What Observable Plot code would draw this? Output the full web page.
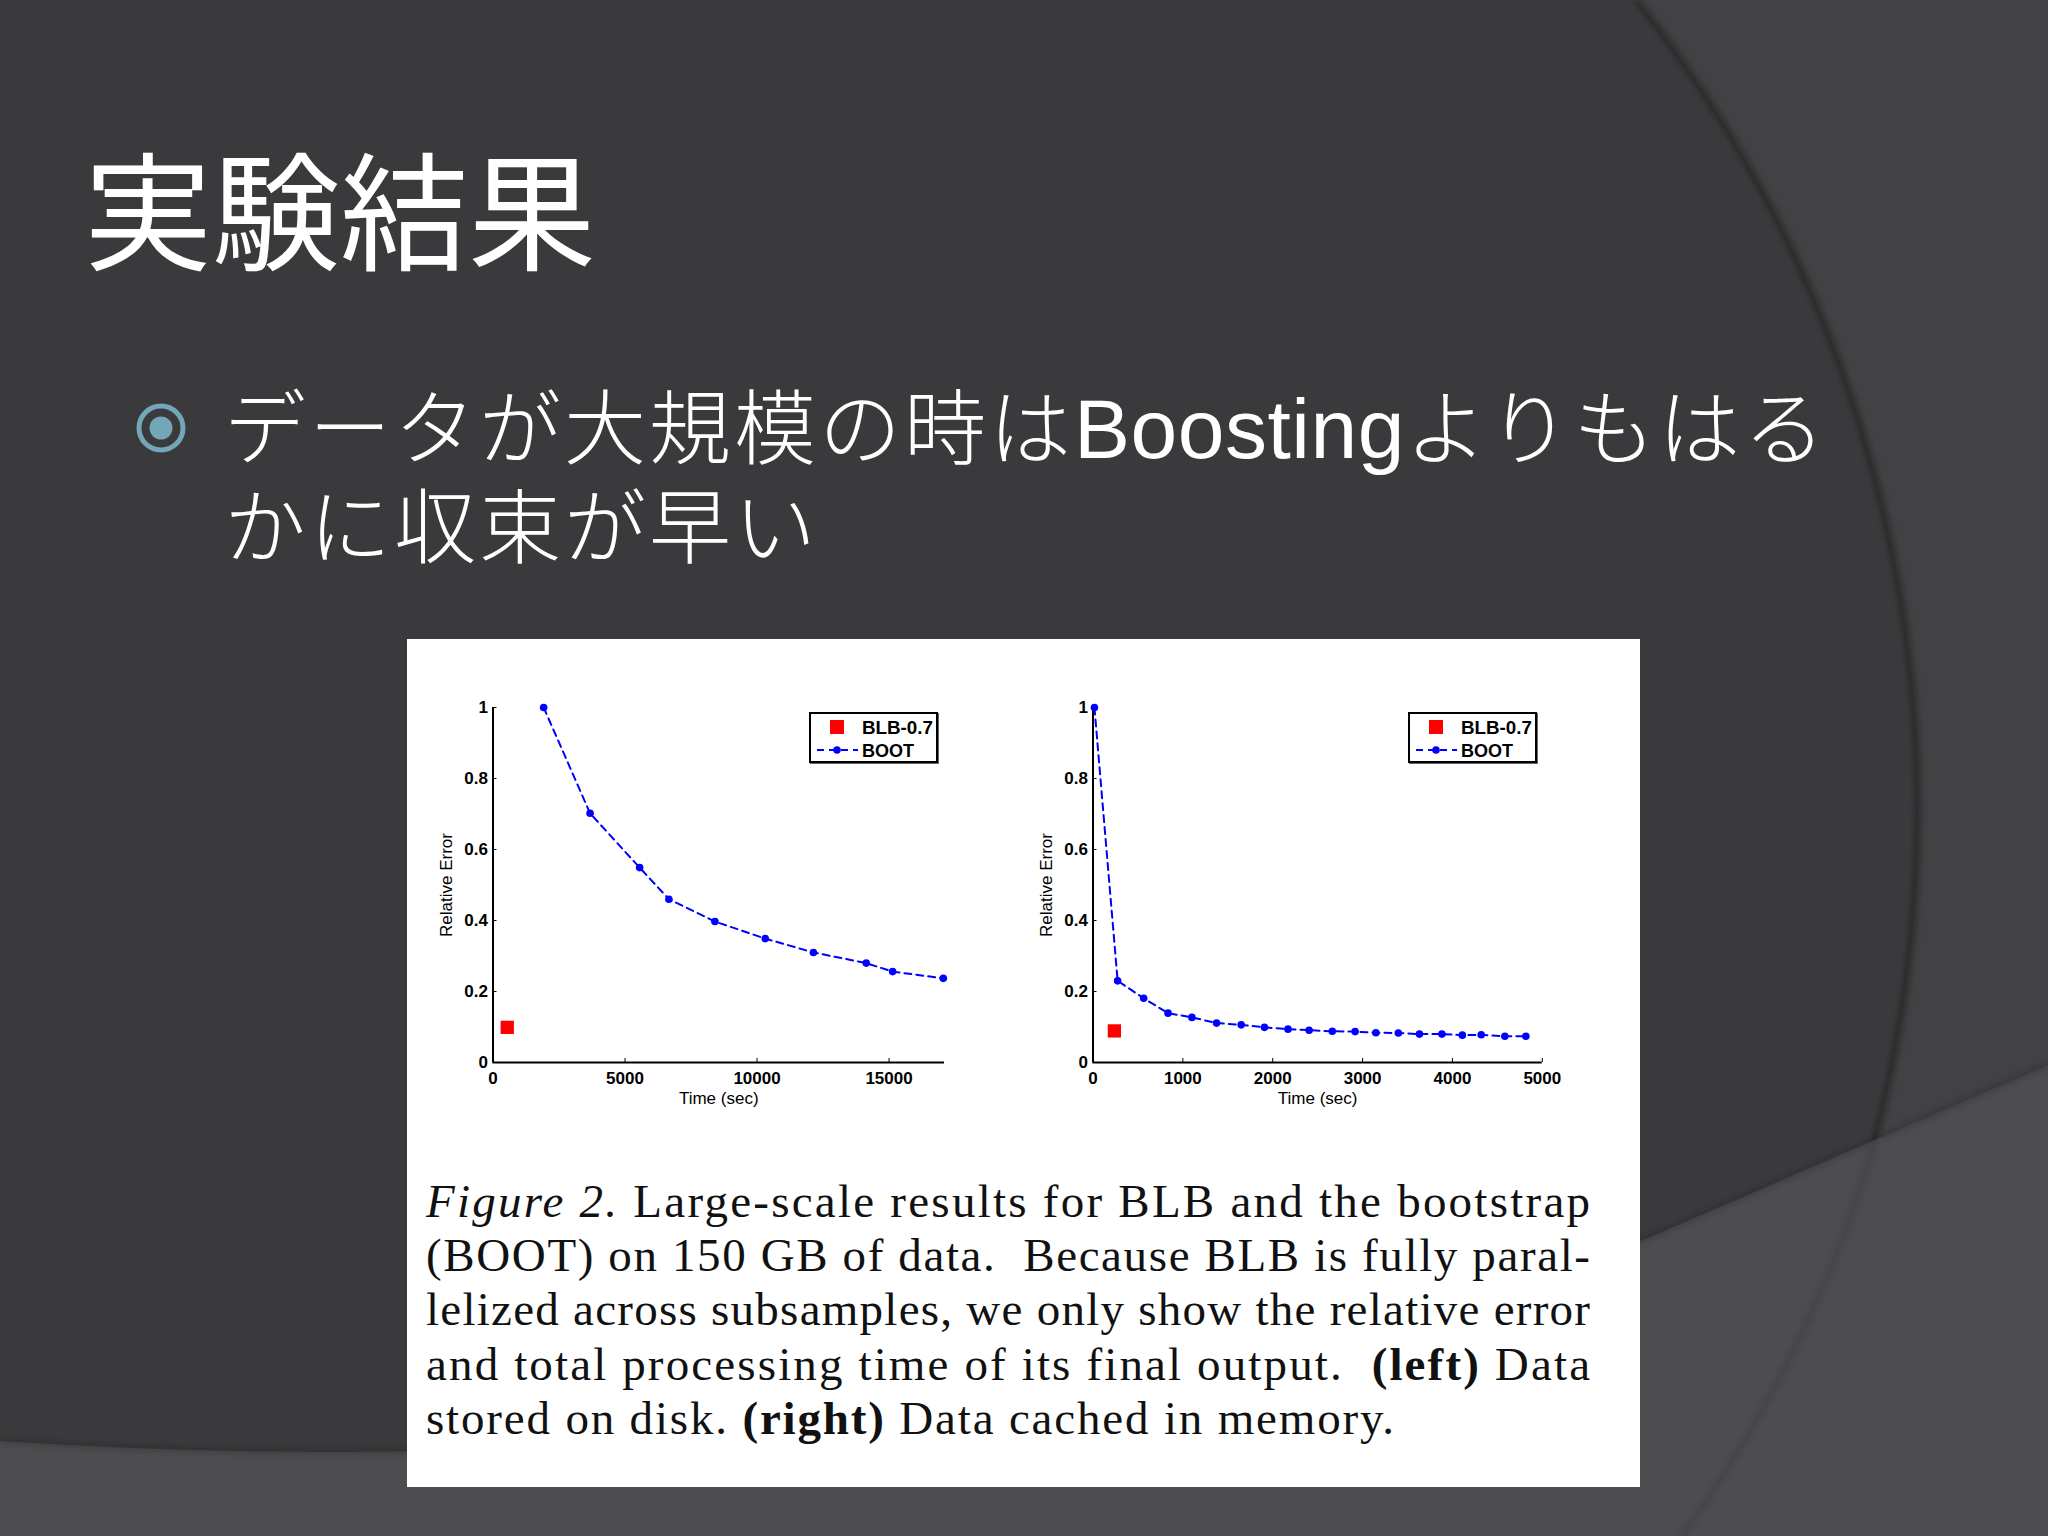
<!DOCTYPE html>
<html>
<head>
<meta charset="utf-8">
<script src="https://cdn.jsdelivr.net/npm/d3@7"></script>
<script src="https://cdn.jsdelivr.net/npm/@observablehq/plot@0.6"></script>
<style>
  html, body { margin: 0; padding: 0; }
  body { width: 2048px; height: 1536px; overflow: hidden; position: relative; background: #3a393b; }
  #bg { position: absolute; left: 0; top: 0; }
  #title { position: absolute; left: 84px; top: 142px; font-family: "Noto Sans CJK JP", sans-serif; font-size: 128px; line-height: 128px; color: #fff; font-weight: 400; white-space: nowrap; }
  .bline { position: absolute; left: 224px; height: 100px; font-family: "Liberation Sans", "Noto Sans CJK JP", sans-serif; font-weight: 300; font-size: 82px; line-height: 100px; color: #fff; letter-spacing: 3px; white-space: nowrap; }
  #b1 { top: 379px; }
  #b2 { top: 479px; }
  .bline .lat { font-weight: 400; font-size: 84px; letter-spacing: 0.5px; }
  #figure { position: absolute; left: 407px; top: 639px; width: 1233px; height: 848px; background: #fff; }
  .chart { position: absolute; top: 51px; }
  #left { left: 13px; }
  #right { left: 613px; }
  .legend { position: absolute; width: 125px; height: 47px; border: 2px solid #000; background: #fff; box-shadow: 1px 1px 0 #666; }
  .legend svg { position: absolute; left: 0; top: 0; }
  #legL { left: 402px; top: 73px; }
  #legR { left: 1001px; top: 73px; }
  #caption { position: absolute; left: 0; top: 0; }
</style>
</head>
<body>
<svg id="bg" width="2048" height="1536">
  <defs>
    <filter id="blur3"><feGaussianBlur stdDeviation="3"/></filter>
  </defs>
  <rect width="2048" height="1536" fill="#3a393b"/>
  <path d="M1637,0 A1303,1303 0 0,1 1874,1145 L2048,1065 L2048,0 Z" fill="#424143"/>
  <path d="M1637,0 A1303,1303 0 0,1 1874,1145" fill="none" stroke="rgba(0,0,0,0.35)" stroke-width="6" filter="url(#blur3)"/>
  <path d="M0,1441 Q900,1500 1641,1241 L2048,1065 L2048,1536 L0,1536 Z" fill="#4d4c4f"/>
  <path d="M0,1441 Q900,1500 1641,1241 L2048,1065" fill="none" stroke="rgba(0,0,0,0.25)" stroke-width="4" filter="url(#blur3)"/>
  <path d="M1874,1145 A1303,1303 0 0,1 1682,1536" fill="none" stroke="rgba(0,0,0,0.18)" stroke-width="4" filter="url(#blur3)"/>
  <circle cx="161" cy="428" r="22" fill="none" stroke="#72a6b8" stroke-width="5"/>
  <circle cx="161" cy="428" r="11.5" fill="#72a6b8"/>
</svg>

<div id="title">実験結果</div>
<div id="b1" class="bline">データが大規模の時は<span class="lat">Boosting</span>よりもはる</div>
<div id="b2" class="bline">かに収束が早い</div>

<div id="figure">
  <div id="left" class="chart"></div>
  <div id="right" class="chart"></div>
  <div id="legL" class="legend"></div>
  <div id="legR" class="legend"></div>
  <svg id="caption" width="1233" height="848"></svg>
</div>

<script>
// ---- data ----
const seriesNames = ["BLB-0.7", "BOOT"];

// left panel: data stored on disk
const leftBootTime  = [1919, 3676, 5554, 6662, 8405, 10311, 12135, 14135, 15135, 17054];
const leftBootError = [1.0, 0.702, 0.549, 0.460, 0.397, 0.349, 0.310, 0.280, 0.256, 0.237];
const leftBlbTime  = [540];
const leftBlbError = [0.099];
const leftXMax = 17100;
const leftXTicks = [0, 5000, 10000, 15000];

// right panel: data cached in memory
const rightBootTime  = [16, 274, 564, 835, 1101, 1375, 1649, 1908, 2170, 2405, 2663, 2917, 3148, 3398, 3633, 3883, 4110, 4320, 4583, 4817];
const rightBootError = [1.0, 0.230, 0.181, 0.139, 0.127, 0.111, 0.106, 0.099, 0.094, 0.091, 0.088, 0.087, 0.084, 0.083, 0.080, 0.080, 0.077, 0.078, 0.074, 0.074];
const rightBlbTime  = [238];
const rightBlbError = [0.089];
const rightXMax = 5000;
const rightXTicks = [0, 1000, 2000, 3000, 4000, 5000];

const yTicks = [0, 0.2, 0.4, 0.6, 0.8, 1];
const xLabel = "Time (sec)";
const yLabel = "Relative Error";

const captionLines = [
  [["i", "Figure 2."], ["", " Large-scale results for BLB and the bootstrap"]],
  [["", "(BOOT) on 150 GB of data.  Because BLB is fully paral-"]],
  [["", "lelized across subsamples, we only show the relative error"]],
  [["", "and total processing time of its final output.  "], ["b", "(left)"], ["", " Data"]],
  [["", "stored on disk. "], ["b", "(right)"], ["", " Data cached in memory."]]
];

// ---- charts ----
function makeChart(bootT, bootE, blbT, blbE, xMax, xTicks, plotW) {
  const boot = bootT.map((t, i) => ({t, e: bootE[i]}));
  const blb = blbT.map((t, i) => ({t, e: blbE[i]}));
  const mL = 72.5, mT = 17, mB = 58, W = 560, H = 430;
  return Plot.plot({
    width: W, height: H,
    marginLeft: mL, marginTop: mT, marginBottom: mB, marginRight: W - mL - plotW,
    style: {fontFamily: "'Liberation Sans', Arial, sans-serif", fontSize: "17px", color: "#000", background: "transparent", overflow: "visible"},
    x: {domain: [0, xMax]},
    y: {domain: [0, 1]},
    marks: [
      Plot.axisX(xTicks, {tickSize: -4, tickPadding: 13, tickFormat: d => String(d), fontWeight: "bold", fontSize: 17, label: null, stroke: "#000", fill: "#000"}),
      Plot.axisY(yTicks, {tickSize: -4, tickPadding: 9, tickFormat: d => String(d), fontWeight: "bold", fontSize: 17, label: null, stroke: "#000", fill: "#000"}),
      Plot.ruleX([0], {stroke: "#000", strokeWidth: 2}),
      Plot.ruleY([0], {stroke: "#000", strokeWidth: 2}),
      Plot.line(boot, {x: "t", y: "e", stroke: "#0000ff", strokeWidth: 2, strokeDasharray: "7,5"}),
      Plot.dot(boot, {x: "t", y: "e", r: 3.8, fill: "#0000ff", stroke: "none"}),
      Plot.dot(blb, {x: "t", y: "e", symbol: "square", r: 7.5, fill: "#ff0000", stroke: "none"}),
      Plot.text([xLabel], {frameAnchor: "bottom", dy: 41, fontSize: 17, fill: "#000"}),
      Plot.text([yLabel], {frameAnchor: "left", textAnchor: "middle", dx: -46, rotate: -90, fontSize: 17, fill: "#000"})
    ]
  });
}

document.getElementById("left").append(
  makeChart(leftBootTime, leftBootError, leftBlbTime, leftBlbError, leftXMax, leftXTicks, 451.5));
document.getElementById("right").append(
  makeChart(rightBootTime, rightBootError, rightBlbTime, rightBlbError, rightXMax, rightXTicks, 449.3));

// ---- legends ----
function makeLegend(el) {
  const ns = "http://www.w3.org/2000/svg";
  const svg = document.createElementNS(ns, "svg");
  svg.setAttribute("width", 125); svg.setAttribute("height", 47);
  svg.setAttribute("font-family", "'Liberation Sans', Arial, sans-serif");
  svg.innerHTML =
    `<rect x="19" y="6" width="14" height="14" fill="#ff0000"/>` +
    `<text x="51" y="20" font-weight="bold" font-size="18" textLength="71" lengthAdjust="spacingAndGlyphs">${seriesNames[0]}</text>` +
    `<line x1="6" y1="36" x2="47" y2="36" stroke="#0000ff" stroke-width="2" stroke-dasharray="7,5"/>` +
    `<circle cx="26" cy="36" r="3.8" fill="#0000ff"/>` +
    `<text x="51" y="42.5" font-weight="bold" font-size="18">${seriesNames[1]}</text>`;
  el.append(svg);
}
makeLegend(document.getElementById("legL"));
makeLegend(document.getElementById("legR"));

// ---- caption ----
(function () {
  const cap = document.getElementById("caption");
  const baselines = [578, 632, 686, 741, 795];
  const widths = [1164, 1164, 1164, 1164, 968];
  let html = "";
  captionLines.forEach((parts, i) => {
    const spans = parts.map(([k, s]) => {
      const st = k === "i" ? ' font-style="italic"' : k === "b" ? ' font-weight="bold"' : "";
      return `<tspan${st}>${s.replace(/ /g, "&#160;")}</tspan>`;
    }).join("");
    html += `<text x="19" y="${baselines[i]}" textLength="${widths[i]}" lengthAdjust="spacing" font-family="'Liberation Serif', 'DejaVu Serif', serif" font-size="47" fill="#111">${spans}</text>`;
  });
  cap.innerHTML = html;
})();
</script>
</body>
</html>
